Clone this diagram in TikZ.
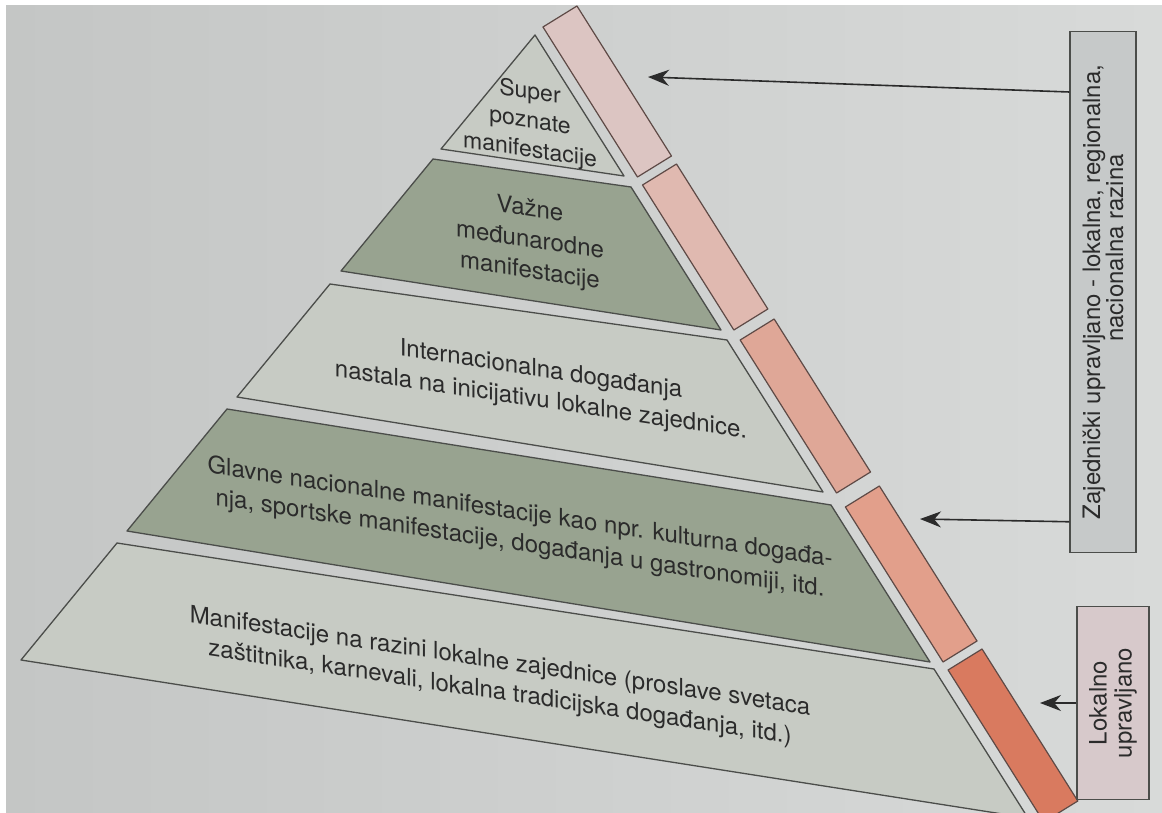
\documentclass[tikz,border=0pt]{standalone}
\usepackage{fontspec}
\setmainfont{TeX Gyre Heros}
\usetikzlibrary{arrows.meta,calc}

\definecolor{bgl}{HTML}{C4C6C5}
\definecolor{bgr}{HTML}{D8DAD9}
\definecolor{lightg}{HTML}{C7CBC4}
\definecolor{darkg}{HTML}{98A390}
\definecolor{edgec}{HTML}{4B4D4A}
\definecolor{stripa}{HTML}{DCC5C2}
\definecolor{stripb}{HTML}{E0B9B0}
\definecolor{stripc}{HTML}{DFA797}
\definecolor{stripd}{HTML}{E29F8B}
\definecolor{stripe}{HTML}{D97A5F}
\definecolor{stripedge}{HTML}{5E4A46}
\definecolor{inkc}{HTML}{2B2B2B}
\definecolor{zboxc}{HTML}{C6C9C9}
\definecolor{lboxc}{HTML}{D7C9CB}

\begin{document}
\begin{tikzpicture}[x=1pt,y=-1pt,
  layer/.style={draw=edgec,line width=1.3pt,line join=round},
  strip/.style={draw=stripedge,line width=1.2pt,line join=round},
  lbl/.style={font=\fontsize{24}{31}\selectfont,align=center,text=inkc,yslant=-0.15,inner sep=0pt},
  notebox/.style={draw=edgec,line width=1.2pt,inner sep=0pt},
  notetxt/.style={align=center,text=inkc,rotate=90,inner sep=0pt},
  pointer/.style={draw=inkc,line width=1.6pt,-{Stealth[length=21pt,width=16pt]}}]
\useasboundingbox (0,0) rectangle (1162,813);
\clip (0,0) rectangle (1162,813);
\fill[white] (0,0) rectangle (1162,813);
\shade[left color=bgl,right color=bgr] (6,6) rectangle (1162,813);

% pyramid levels
\filldraw[layer,fill=lightg] (535,35) -- (624,176) -- (441,149) -- cycle;
\filldraw[layer,fill=darkg] (433,159) -- (631,187) -- (721,330) -- (341,271) -- cycle;
\filldraw[layer,fill=lightg] (330,284) -- (727,340) -- (823,492) -- (237,397) -- cycle;
\filldraw[layer,fill=darkg] (227,409) -- (831,505) -- (930,662) -- (127,531) -- cycle;
\filldraw[layer,fill=lightg] (117,543) -- (934,669) -- (1028,818) -- (21,660) -- cycle;

% coloured strips along the right side
\foreach \ya/\yb/\c in {27/177/stripa,185/330/stripb,340/493/stripc,507/662/stripd,670/822/stripe}
  \filldraw[strip,fill=\c] ({548+0.63*(\ya-35)},\ya) -- ({548+0.63*(\yb-35)},\yb)
    -- ++(34,-21) -- ({582+0.63*(\ya-35)},{\ya-21}) -- cycle;

% level texts
\node[lbl,font=\fontsize{23}{29}\selectfont] (super) at (530,122) {Super\\poznate\\manifestacije};
\node[lbl] (vazne) at (530,241) {Važne\\međunarodne\\manifestacije};
\node[lbl] (inter) at (541,386) {Internacionalna događanja\\nastala na inicijativu lokalne zajednice.};
\node[lbl] (glavne) at (520,529) {Glavne nacionalne manifestacije kao npr. kulturna događa-\\nja, sportske manifestacije, događanja u gastronomiji, itd.};
\node[lbl] (lokalne) at (500,678) {Manifestacije na razini lokalne zajednice (proslave svetaca\\zaštitnika, karnevali, lokalna tradicijska događanja, itd.)};

% boxes on the right
\node[notebox,fill=zboxc,minimum width=66pt,minimum height=521pt] (zbox) at (1103,292) {};
\node[notetxt,font=\fontsize{24}{23}\selectfont] (ztext) at (zbox) {Zajednički upravljano - lokalna, regionalna,\\\hspace*{88pt}nacionalna razina};
\node[notebox,fill=lboxc,minimum width=72pt,minimum height=193pt] (lbox) at (1113,703) {};
\node[notetxt,font=\fontsize{24}{25}\selectfont] (ltext) at (lbox) {Lokalno\\upravljano};

% arrows
\coordinate (tiptop) at (648,77);
\coordinate (tipmid) at (920,519);
\coordinate (tiplow) at (1040,703);
\draw[pointer] ($(zbox.north west)!0.117!(zbox.south west)$) -- (tiptop);
\draw[pointer] ($(zbox.north west)!0.94!(zbox.south west)$) -- (tipmid);
\draw[pointer] (lbox.west) -- (tiplow);
\end{tikzpicture}
\end{document}
